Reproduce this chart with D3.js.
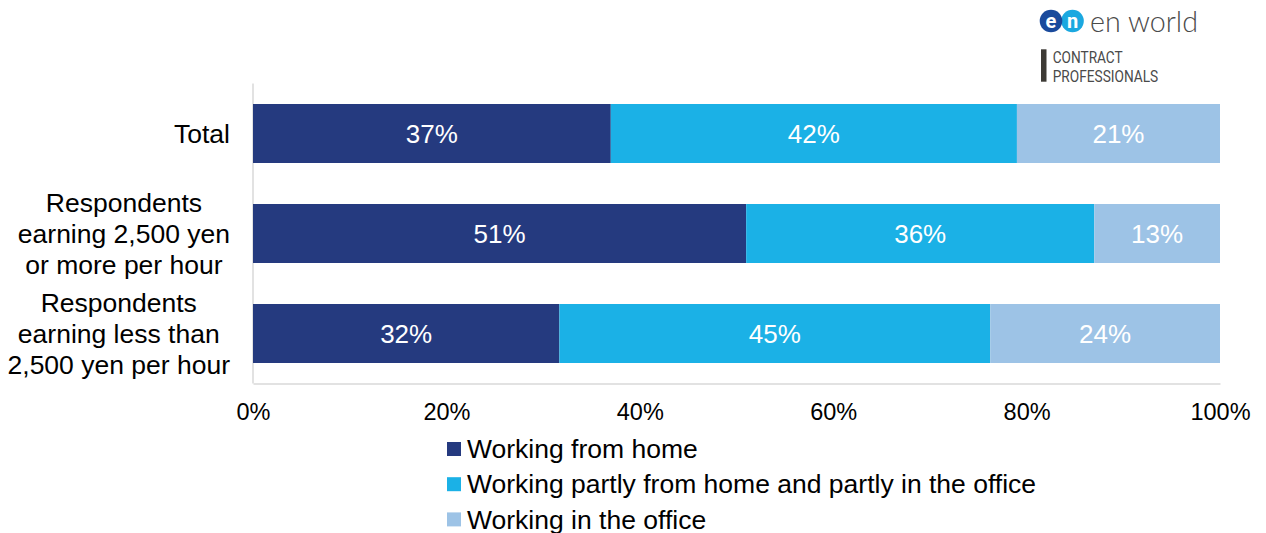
<!DOCTYPE html>
<html>
<head>
<meta charset="utf-8">
<script src="https://cdn.jsdelivr.net/npm/d3@7"></script>
<style>
  html, body { margin: 0; padding: 0; background: #fff; }
  svg { display: block; font-family: "Liberation Sans", Arial, sans-serif; }
</style>
</head>
<body>
<svg id="chart" width="1266" height="533"></svg>
<script>
// Work style by hourly pay group (share of respondents, %)
const categories = [
  ["Total"],
  ["Respondents", "earning 2,500 yen", "or more per hour"],
  ["Respondents", "earning less than", "2,500 yen per hour"]
];
const seriesNames = [
  "Working from home",
  "Working partly from home and partly in the office",
  "Working in the office"
];
const fromHome = [37, 51, 32];
const partly = [42, 36, 45];
const inOffice = [21, 13, 24];
const xTicks = [0, 0.2, 0.4, 0.6, 0.8, 1.0];
const colors = ["#253a7f", "#1bb1e6", "#9dc3e6"];

const svg = d3.select("#chart");
const W = 1266, H = 533;
svg.append("rect").attr("width", W).attr("height", H).attr("fill", "#fff");

const margin = { left: 253, right: 46, top: 83.5, bottom: 149.5 };

const rows = categories.map((c, i) => ({
  key: i,
  lines: c,
  [seriesNames[0]]: fromHome[i],
  [seriesNames[1]]: partly[i],
  [seriesNames[2]]: inOffice[i]
}));

// each bar spans the full width: shares are scaled to their row total
const stacked = d3.stack().keys(seriesNames).offset(d3.stackOffsetExpand)(rows);

const x = d3.scaleLinear().domain([0, 1]).range([margin.left, W - margin.right]);
const y = d3.scaleBand()
  .domain(rows.map(r => r.key))
  .range([margin.top, H - margin.bottom])
  .paddingInner(0.41)
  .paddingOuter(0.205);

const color = d3.scaleOrdinal().domain(seriesNames).range(colors);

// axis lines
const axisColor = "#d9d9d9";
svg.append("line")
  .attr("x1", x(0)).attr("x2", x(0))
  .attr("y1", margin.top).attr("y2", H - margin.bottom)
  .attr("stroke", axisColor).attr("stroke-width", 1.5);

const xAxis = d3.axisBottom(x).tickValues(xTicks).tickFormat(d3.format(".0%")).tickSize(0).tickPadding(20);
const gx = svg.append("g")
  .attr("transform", `translate(0,${H - margin.bottom})`)
  .call(xAxis);
gx.select(".domain").attr("stroke", axisColor).attr("stroke-width", 1.5);
gx.selectAll("text")
  .attr("font-family", "'Liberation Sans', Arial, sans-serif")
  .attr("font-size", 23.5)
  .attr("fill", "#000");

// bars
const layer = svg.append("g").selectAll("g")
  .data(stacked)
  .join("g")
  .attr("fill", d => color(d.key));

layer.selectAll("rect")
  .data(d => d.map(v => ({ v, key: d.key })))
  .join("rect")
  .attr("x", d => x(d.v[0]))
  .attr("y", d => y(d.v.data.key))
  .attr("width", d => x(d.v[1]) - x(d.v[0]))
  .attr("height", y.bandwidth());

// value labels
layer.selectAll("text")
  .data(d => d.map(v => ({ v, key: d.key })))
  .join("text")
  .attr("x", d => (x(d.v[0]) + x(d.v[1])) / 2)
  .attr("y", d => y(d.v.data.key) + y.bandwidth() / 2)
  .attr("dy", "0.35em")
  .attr("text-anchor", "middle")
  .attr("font-size", 26)
  .attr("fill", "#fff")
  .text(d => d.v.data[d.key] + "%");

// category labels: each block centred on its widest line, right edge at 230
const lineH = 31;
const catG = svg.append("g");
rows.forEach(r => {
  const t = catG.append("text")
    .attr("font-size", 26.5)
    .attr("fill", "#000")
    .attr("text-anchor", "middle");
  const cy = y(r.key) + y.bandwidth() / 2;
  const n = r.lines.length;
  r.lines.forEach((ln, j) => {
    t.append("tspan")
      .attr("y", cy + (j - (n - 1) / 2) * lineH)
      .attr("dy", "0.35em")
      .text(ln);
  });
  let maxW = 0;
  t.selectAll("tspan").each(function () { maxW = Math.max(maxW, this.getComputedTextLength()); });
  t.selectAll("tspan").attr("x", 230 - maxW / 2);
});

// legend
const legend = svg.append("g");
seriesNames.forEach((name, i) => {
  const cy = 449 + i * 35.2;
  legend.append("rect")
    .attr("x", 447).attr("y", cy - 7)
    .attr("width", 14).attr("height", 14)
    .attr("fill", color(name));
  legend.append("text")
    .attr("x", 467).attr("y", cy)
    .attr("dy", "0.35em")
    .attr("font-size", 26.5)
    .attr("fill", "#000")
    .text(name);
});

// brand mark
const logo = svg.append("g");
logo.append("circle").attr("cx", 1072.5).attr("cy", 21).attr("r", 11.3).attr("fill", "#1ba8e0");
logo.append("circle").attr("cx", 1051).attr("cy", 21).attr("r", 11.3).attr("fill", "#1a4a9c");
logo.append("text").attr("x", 1051).attr("y", 21).attr("dy", "0.35em")
  .attr("text-anchor", "middle").attr("font-size", 20).attr("font-weight", 700)
  .attr("font-family", "Roboto, 'Liberation Sans', sans-serif")
  .attr("fill", "#fff").text("e");
logo.append("text").attr("x", 1072.5).attr("y", 21).attr("dy", "0.35em")
  .attr("text-anchor", "middle").attr("font-size", 20).attr("font-weight", 700)
  .attr("font-family", "Roboto, 'Liberation Sans', sans-serif")
  .attr("fill", "#fff").text("n");
logo.append("text").attr("x", 1090).attr("y", 31.5)
  .attr("font-size", 28.5).attr("font-weight", 300)
  .attr("font-family", "Lato, 'Open Sans', sans-serif")
  .attr("fill", "#4a4a4a")
  .attr("textLength", 108).attr("lengthAdjust", "spacingAndGlyphs")
  .text("en world");
logo.append("rect").attr("x", 1041).attr("y", 49.3).attr("width", 5.5).attr("height", 32.4).attr("fill", "#3d3a35");
logo.append("text").attr("x", 1052.7).attr("y", 63)
  .attr("font-size", 16.5).attr("font-family", "'Liberation Sans Narrow', Roboto, sans-serif")
  .attr("fill", "#4a4a4a")
  .attr("textLength", 70).attr("lengthAdjust", "spacingAndGlyphs")
  .text("CONTRACT");
logo.append("text").attr("x", 1052.7).attr("y", 81.5)
  .attr("font-size", 16.5).attr("font-family", "'Liberation Sans Narrow', Roboto, sans-serif")
  .attr("fill", "#4a4a4a")
  .attr("textLength", 105.5).attr("lengthAdjust", "spacingAndGlyphs")
  .text("PROFESSIONALS");
</script>
</body>
</html>
